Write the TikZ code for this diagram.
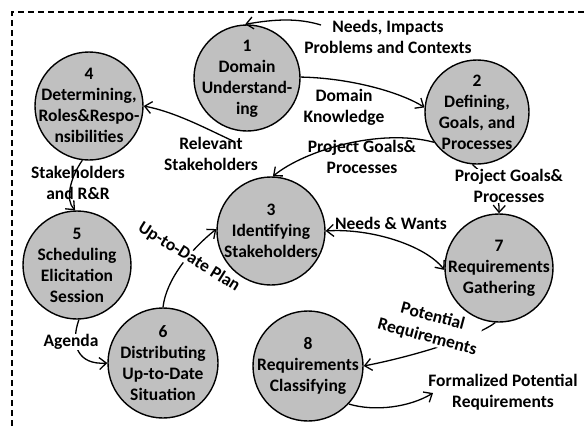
\documentclass[tikz,border=0pt]{standalone}
\usepackage{fontspec}
\setmainfont{Carlito}
\usetikzlibrary{arrows.meta}
\definecolor{circgray}{RGB}{192,192,192}
\tikzset{
  proc/.style={circle, draw=black, line width=1.4pt, fill=circgray, inner sep=0pt, minimum size=#1},
  ptext/.style={align=center, inner sep=0pt, font=\fontsize{17.5}{21}\selectfont\bfseries},
  lbl/.style={align=center, inner sep=0pt, font=\fontsize{17.5}{21}\selectfont\bfseries},
  arr/.style={line width=1.3pt, -{Straight Barb[length=7pt,width=12pt]}},
  darr/.style={line width=1.3pt, {Straight Barb[length=7pt,width=12pt]}-{Straight Barb[length=7pt,width=12pt]}},
  frame/.style={line width=1.3pt, dash pattern=on 6pt off 4pt}
}
\begin{document}
\begin{tikzpicture}[x=1pt,y=-1pt]
\useasboundingbox (0,0) rectangle (584,426);
\coordinate (fb) at (12,426);
\coordinate (fc) at (12,12);
\coordinate (fr) at (584,12);
\draw[frame] (fb) -- (fc) -- (fr);

% circles
\node[proc=106pt] (c1) at (247,78) {};
\node[proc=104pt] (c2) at (477,112) {};
\node[proc=108pt] (c3) at (271,231) {};
\node[proc=108pt] (c4) at (89,106) {};
\node[proc=108pt] (c5) at (77,265) {};
\node[proc=110pt] (c6) at (163,363) {};
\node[proc=108pt] (c7) at (499,268) {};
\node[proc=110pt] (c8) at (308,366) {};

\node[ptext] (t1) at (247,79) {1\\Domain\\Understand-\\ing};
\node[ptext] (t2) at (477,112) {2\\Defining,\\Goals, and\\Processes};
\node[ptext] (t3) at (271,231) {3\\Identifying\\Stakeholders};
\node[ptext] (t4) at (89,105) {4\\Determining,\\Roles\&Respo-\\nsibilities};
\node[ptext] (t5) at (77,265) {5\\Scheduling\\Elicitation\\Session};
\node[ptext] (t6) at (163,363) {6\\Distributing\\Up-to-Date\\Situation};
\node[ptext] (t7) at (499,268) {7\\Requirements\\Gathering};
\node[ptext] (t8) at (308,366) {8\\Requirements\\Classifying};

% labels
\node[lbl] (lneeds) at (388,37) {Needs, Impacts\\Problems and Contexts};
\node[lbl] (ldk) at (344,107) {Domain\\Knowledge};
\node[lbl] (lpg1) at (362,157) {Project Goals\&\\Processes};
\node[lbl] (lrel) at (211,154) {Relevant\\Stakeholders};
\node[lbl] (lsr) at (78,183) {Stakeholders\\and R\&R};
\node[lbl] (lnw) at (391,223) {Needs \& Wants};
\node[lbl] (lfpr) at (503,392) {Formalized Potential\\Requirements};

\coordinate (s1) at (321,25);
\coordinate (srel) at (233,141);
\coordinate (e10) at (433,393);

% connectors
\draw[arr] (s1) .. controls (298,18) and (275,19) .. (c1.92);
\draw[arr] (c1.1) .. controls (350,78) and (400,92) .. (c2.175);
\draw[arr] (c2.215) .. controls (380,128) and (305,150) .. (c3.88);
\draw[arr] (srel) .. controls (205,128) and (175,112) .. (c4.0);
\draw[arr] (c4.263) .. controls (70,178) and (65,200) .. (c5.92);
\draw[arr] (c5.272) .. controls (70,345) and (78,365) .. (c6.180);
\draw[arr] (c6.90) .. controls (166,280) and (190,250) .. (c3.178);
\draw[darr] (c3.0) .. controls (370,228) and (425,245) .. (c7.182);
\draw[arr] (c2.265) .. controls (480,172) and (500,185) .. (c7.90);
\draw[arr] (c7.266) .. controls (480,335) and (420,355) .. (c8.0);
\draw[arr] (c8.-43) .. controls (375,412) and (410,407) .. (e10);

% labels drawn over lines
\node[lbl, fill=white] (lup) at (189,257) [rotate=-32] {Up-to-Date Plan};
\node[lbl, fill=white] (lpg2) at (509,186) {Project Goals\&\\Processes};
\node[lbl, fill=white] (lag) at (71,342) {Agenda};
\node[lbl, fill=white] (lpr) at (430,327) [rotate=-15] {Potential\\Requirements};
\end{tikzpicture}
\end{document}
